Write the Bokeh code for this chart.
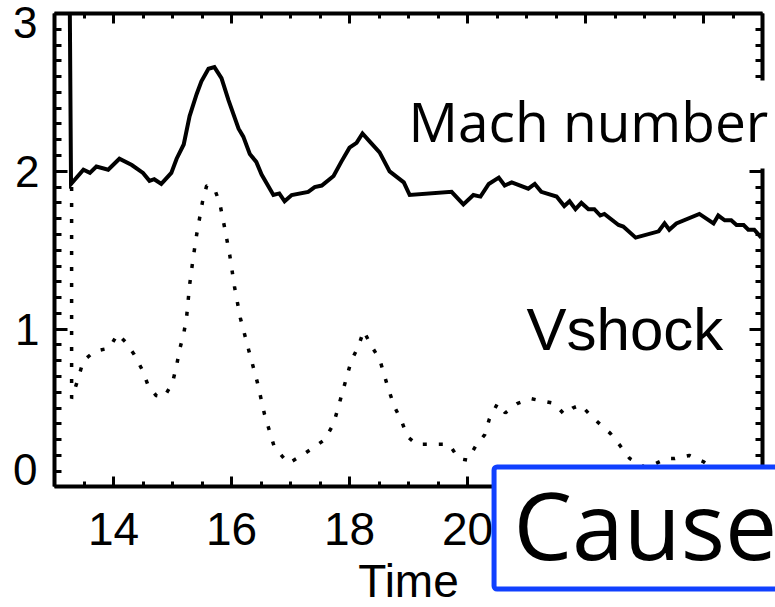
from bokeh.plotting import figure
from bokeh.models import (LinearAxis, Label, SingleIntervalTicker, FixedTicker, Range1d,
                          BoxAnnotation)
from bokeh.embed import file_html
from bokeh.resources import INLINE

# ---- data ----
mach_t = [13.26, 13.28, 13.49, 13.60, 13.71, 13.91, 14.10, 14.31, 14.50, 14.61, 14.69, 14.81,
          14.98, 15.07, 15.19, 15.29, 15.41, 15.49, 15.61, 15.71, 15.83, 15.95, 16.12, 16.20,
          16.31, 16.42, 16.51, 16.71, 16.81, 16.90, 17.02, 17.30, 17.41, 17.53, 17.73, 17.86,
          18.00, 18.12, 18.22, 18.34, 18.51, 18.68, 18.92, 19.02, 19.73, 19.93, 20.10, 20.22,
          20.36, 20.53, 20.63, 20.75, 21.03, 21.14, 21.25, 21.51, 21.64, 21.73, 21.83, 21.93,
          22.05, 22.15, 22.25, 22.32, 22.56, 22.64, 22.85, 23.24, 23.34, 23.42, 23.54, 23.93,
          24.17, 24.25, 24.36, 24.47, 24.56, 24.68, 24.76, 24.86, 24.98]
mach_v = [3.00, 1.92, 2.01, 1.99, 2.03, 2.01, 2.08, 2.04, 1.99, 1.94, 1.95, 1.92,
          1.99, 2.08, 2.17, 2.35, 2.49, 2.57, 2.65, 2.66, 2.59, 2.45, 2.27, 2.22,
          2.11, 2.06, 1.98, 1.85, 1.86, 1.81, 1.85, 1.87, 1.90, 1.91, 1.97, 2.06,
          2.15, 2.18, 2.24, 2.19, 2.12, 2.00, 1.93, 1.85, 1.87, 1.79, 1.85, 1.84,
          1.92, 1.96, 1.91, 1.93, 1.89, 1.92, 1.87, 1.84, 1.78, 1.81, 1.76, 1.80,
          1.76, 1.76, 1.72, 1.73, 1.66, 1.65, 1.58, 1.62, 1.67, 1.63, 1.67, 1.73,
          1.67, 1.72, 1.69, 1.69, 1.66, 1.66, 1.63, 1.63, 1.58]

vshock_t = [13.29, 13.29, 13.37, 13.49, 13.68, 13.93, 14.07, 14.20, 14.35, 14.49, 14.58, 14.72,
            14.86, 15.00, 15.07, 15.12, 15.19, 15.24, 15.29, 15.35, 15.41, 15.51, 15.58, 15.71,
            15.80, 15.88, 15.97, 16.05, 16.15, 16.29, 16.44, 16.56, 16.72, 16.87, 16.97, 17.19,
            17.39, 17.58, 17.73, 17.88, 18.03, 18.15, 18.24, 18.36, 18.51, 18.66, 18.76, 18.88,
            18.98, 19.14, 19.42, 19.69, 19.85, 20.00, 20.14, 20.29, 20.37, 20.51, 20.64, 20.85,
            21.07, 21.20, 21.47, 21.64, 21.78, 21.92, 22.07, 22.24, 22.42, 22.59, 22.75, 23.03,
            23.37, 23.51, 23.76, 24.00, 24.30, 24.60, 25.00]
vshock_v = [1.90, 0.56, 0.65, 0.80, 0.86, 0.88, 0.97, 0.92, 0.84, 0.74, 0.65, 0.58,
            0.57, 0.66, 0.77, 0.87, 0.97, 1.08, 1.28, 1.45, 1.60, 1.81, 1.91, 1.89,
            1.80, 1.65, 1.47, 1.27, 1.07, 0.87, 0.66, 0.46, 0.26, 0.19, 0.15, 0.20,
            0.25, 0.30, 0.40, 0.60, 0.80, 0.89, 0.99, 0.90, 0.81, 0.62, 0.51, 0.42,
            0.32, 0.27, 0.27, 0.27, 0.18, 0.17, 0.26, 0.33, 0.43, 0.53, 0.47, 0.53,
            0.56, 0.55, 0.53, 0.46, 0.50, 0.52, 0.46, 0.40, 0.34, 0.26, 0.18, 0.12,
            0.18, 0.18, 0.20, 0.16, 0.08, 0.05, 0.05]

x_start, x_end = 13, 25
y_start, y_end = 0, 3
y_labelled_ticks = [1, 2]
edge_tick_labels = {0: "0", 3: "3"}
series_labels = ["Mach number", "Vshock"]
box_text = "Cause"
x_title = "Time"

TICK_FONT = "Liberation Sans"
WIDE_FONT = "Open Sans"
BLUE = "#1040ff"

# the frame fills the whole canvas; the axes sit at fixed data locations
p = figure(width=775, height=607, output_backend="svg", toolbar_location=None,
           x_range=Range1d(12.0847, 25.2203), y_range=Range1d(-0.7636, 3.0824),
           min_border=0)
p.grid.visible = False
p.outline_line_color = None
p.background_fill_color = "white"
p.border_fill_color = "white"

p.line(vshock_t, vshock_v, line_color="black", line_width=3.5, line_dash="4 12")
p.line(mach_t, mach_v, line_color="black", line_width=4, line_join="miter")


def style_axis(ax, major_in, minor_in, label_size=None):
    ax.axis_line_width = 4
    ax.axis_line_color = "black"
    ax.major_tick_in = major_in
    ax.major_tick_out = 0
    ax.minor_tick_in = minor_in
    ax.minor_tick_out = 0
    ax.major_tick_line_width = 3
    ax.minor_tick_line_width = 3
    ax.major_tick_line_color = "black"
    ax.minor_tick_line_color = "black"
    if label_size:
        ax.major_label_text_font = TICK_FONT
        ax.major_label_text_font_size = label_size
        ax.major_label_text_color = "black"
    else:
        ax.major_label_text_color = None


def y_ticker():
    return FixedTicker(ticks=y_labelled_ticks, minor_ticks=[i / 10 for i in range(31)])


xa = p.xaxis[0]
xa.ticker = SingleIntervalTicker(interval=2, num_minor_ticks=4)
xa.fixed_location = y_start
xa.bounds = (x_start, x_end)
style_axis(xa, 10, 5, "46px")
xa.major_label_standoff = 26
xa.axis_label = x_title
xa.axis_label_text_font = TICK_FONT
xa.axis_label_text_font_size = "46px"
xa.axis_label_text_font_style = "normal"
xa.axis_label_text_color = "black"
xa.axis_label_standoff = 7

ya = p.yaxis[0]
ya.ticker = y_ticker()
ya.fixed_location = x_start
ya.bounds = (y_start, y_end)
style_axis(ya, 13, 7, "44px")
ya.major_label_standoff = 15

top = LinearAxis(ticker=SingleIntervalTicker(interval=2, num_minor_ticks=4),
                 fixed_location=y_end, bounds=(x_start, x_end))
style_axis(top, 10, 5)
p.add_layout(top, "above")

right = LinearAxis(ticker=y_ticker(), fixed_location=x_end, bounds=(y_start, y_end))
style_axis(right, 13, 7)
p.add_layout(right, "right")

# edge tick labels kept inside the frame height, as in the reference
p.add_layout(Label(x=x_start, y=y_end, text=edge_tick_labels[3], x_offset=-17, y_offset=-9,
                   text_align="right", text_baseline="middle",
                   text_font=TICK_FONT, text_font_size="44px", text_color="black"))
p.add_layout(Label(x=x_start, y=y_start, text=edge_tick_labels[0], x_offset=-17, y_offset=17,
                   text_align="right", text_baseline="middle",
                   text_font=TICK_FONT, text_font_size="44px", text_color="black"))

# white patch behind "Mach number" (hides the right axis there)
p.add_layout(BoxAnnotation(left=18.95, right=26, top=2.5755, bottom=2.0179,
                           fill_color="white", fill_alpha=1, line_color=None))
p.add_layout(Label(x=19.068, y=2.1763, x_offset=-4, y_offset=23, text=series_labels[0],
                   text_align="left", text_baseline="alphabetic", text_font=WIDE_FONT,
                   text_font_size="55px", text_color="black"))
p.add_layout(Label(x=21.00, y=0.845, y_offset=24, text=series_labels[1], text_align="left",
                   text_baseline="alphabetic", text_font=TICK_FONT, text_font_size="60px",
                   text_color="black"))

# blue framed box with "Cause"
p.add_layout(BoxAnnotation(left=20.45, right=26, top=0.1267, bottom=-0.6463,
                           fill_color="white", fill_alpha=1, line_color=BLUE, line_alpha=1,
                           line_width=5, border_radius=3))
p.add_layout(Label(x=20.813, y=-0.4732, x_offset=-2, y_offset=38, text=box_text,
                   text_align="left", text_baseline="alphabetic", text_font=WIDE_FONT,
                   text_font_size="93px", text_color="black"))

open("out.html", "w").write(file_html(p, INLINE))
